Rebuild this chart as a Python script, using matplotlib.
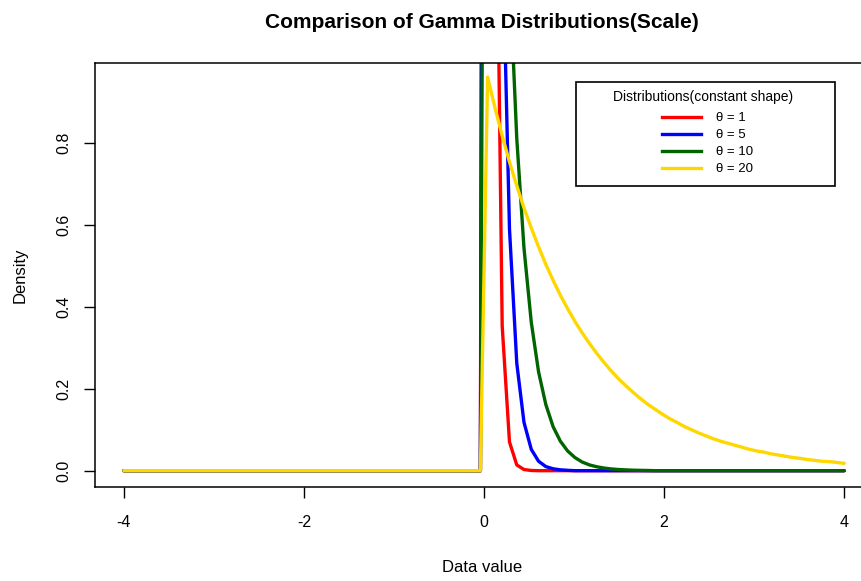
import matplotlib
matplotlib.use("Agg")
import matplotlib.pyplot as plt
from matplotlib.lines import Line2D
from matplotlib.patches import Rectangle

plt.rcParams['font.family'] = ['Liberation Sans', 'DejaVu Sans']

# ---- data ----
x_vals = [-4.0, -0.040, 0.040, 0.121, 0.202, 0.283, 0.364, 0.444, 0.525, 0.606,
          0.687, 0.768, 0.848, 0.929, 1.010, 1.091, 1.172, 1.253, 1.333, 1.414,
          1.495, 1.576, 1.657, 1.737, 1.818, 1.899, 1.980, 2.061, 2.141, 2.222,
          2.303, 2.384, 2.465, 2.545, 2.626, 2.707, 2.788, 2.869, 2.949, 3.030,
          3.111, 3.192, 3.273, 3.354, 3.434, 3.515, 3.596, 3.677, 3.758, 3.838,
          3.919, 4.000]
dens_theta1 = [0, 0, 8.99, 1.78, 0.353, 0.070, 0.014, 0.0028, 0.0005, 0,
               0, 0, 0, 0, 0, 0, 0, 0, 0, 0,
               0, 0, 0, 0, 0, 0, 0, 0, 0, 0,
               0, 0, 0, 0, 0, 0, 0, 0, 0, 0,
               0, 0, 0, 0, 0, 0, 0, 0, 0, 0,
               0, 0]
dens_theta5 = [0, 0, 6.70, 2.98, 1.33, 0.590, 0.262, 0.118, 0.052, 0.023,
               0.010, 0.0046, 0.0021, 0.0009, 0, 0, 0, 0, 0, 0,
               0, 0, 0, 0, 0, 0, 0, 0, 0, 0,
               0, 0, 0, 0, 0, 0, 0, 0, 0, 0,
               0, 0, 0, 0, 0, 0, 0, 0, 0, 0,
               0, 0]
dens_theta10 = [0, 0, 4.09, 2.73, 1.82, 1.215, 0.810, 0.543, 0.362, 0.241,
                0.161, 0.107, 0.072, 0.048, 0.032, 0.021, 0.014, 0.0095, 0.0064, 0.0042,
                0.0028, 0.0019, 0.0012, 0.0008, 0.0005, 0, 0, 0, 0, 0,
                0, 0, 0, 0, 0, 0, 0, 0, 0, 0,
                0, 0, 0, 0, 0, 0, 0, 0, 0, 0,
                0, 0]
dens_theta20 = [0, 0, 0.960, 0.886, 0.817, 0.753, 0.695, 0.641, 0.592, 0.546,
                0.503, 0.464, 0.428, 0.395, 0.364, 0.336, 0.310, 0.286, 0.264, 0.243,
                0.224, 0.207, 0.191, 0.176, 0.162, 0.150, 0.138, 0.127, 0.118, 0.108,
                0.100, 0.092, 0.085, 0.078, 0.072, 0.067, 0.062, 0.057, 0.052, 0.048,
                0.045, 0.041, 0.038, 0.035, 0.032, 0.030, 0.027, 0.025, 0.023, 0.022,
                0.020, 0.018]

series = [dens_theta1, dens_theta5, dens_theta10, dens_theta20]
labels = ["\u03b8 = 1", "\u03b8 = 5", "\u03b8 = 10", "\u03b8 = 20"]
colors = ["#FF0000", "#0000FF", "#006400", "#FFD700"]
x_ticks = [-4, -2, 0, 2, 4]
y_ticks = [0.0, 0.2, 0.4, 0.6, 0.8]
y_tick_labels = ["0.0", "0.2", "0.4", "0.6", "0.8"]

W, H = 862, 581
fig = plt.figure(figsize=(W / 100, H / 100), dpi=100)

def fx(px):
    return px / W

def fy(py):
    return 1 - py / H

# plot region (right side extends past the image, as in the reference)
left, right, top, bottom = 95, 873, 63, 487
ax = fig.add_axes([fx(left), fy(bottom), (right - left) / W, (bottom - top) / H])

for y, c in zip(series, colors):
    ax.plot(x_vals, y, color=c, lw=2.4, solid_capstyle='round',
            solid_joinstyle='round')

ax.set_xlim(-4.32, 4.32)
ax.set_ylim(-0.0398, 0.9944)
ax.set_xticks(x_ticks)
ax.set_xticklabels([str(t) for t in x_ticks])
ax.set_yticks(y_ticks)
ax.set_yticklabels(y_tick_labels, rotation=90, va='center')
ax.tick_params(axis='both', direction='out', length=8, width=1.0,
               labelsize=11.5, color='black')
ax.tick_params(axis='x', pad=12)
ax.tick_params(axis='y', pad=9)
for s in ax.spines.values():
    s.set_linewidth(1.1)
    s.set_color('black')

# titles and axis labels
fig.text(fx(482), fy(22), "Comparison of Gamma Distributions(Scale)",
         ha='center', va='center', fontsize=15, fontweight='bold')
fig.text(fx(482), fy(567), "Data value", ha='center', va='center', fontsize=12)
fig.text(fx(20), fy(275), "Density", ha='center', va='center', fontsize=12,
         rotation=90)

# legend box
lx0, ly0, lx1, ly1 = 576, 82, 835, 186
fig.patches.append(Rectangle((fx(lx0), fy(ly1)), (lx1 - lx0) / W, (ly1 - ly0) / H,
                             transform=fig.transFigure, fill=True,
                             facecolor='white', edgecolor='black', lw=1.2,
                             zorder=5))
fig.text(fx(703), fy(97), "Distributions(constant shape)", ha='center',
         va='center', fontsize=10, zorder=6)
row_y = [117, 134, 151, 168]
for ry, c, lab in zip(row_y, colors, labels):
    fig.add_artist(Line2D([fx(662), fx(701)], [fy(ry), fy(ry)], color=c,
                          lw=2.4, transform=fig.transFigure, zorder=6))
    fig.text(fx(716), fy(ry + 1), lab, ha='left', va='center', fontsize=9.5,
             zorder=6)

fig.savefig("out.png", dpi=100)
